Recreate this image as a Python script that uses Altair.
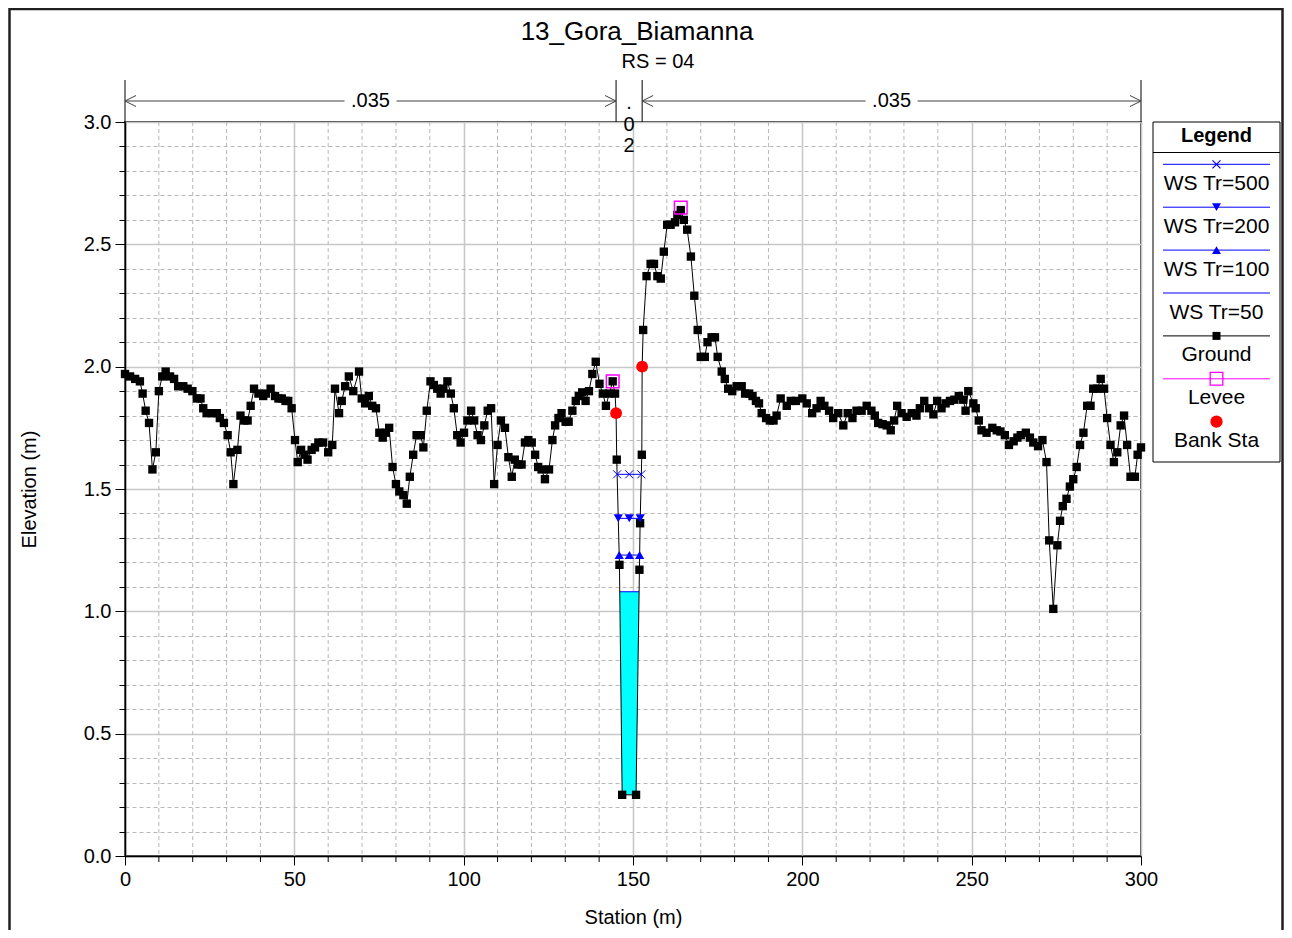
import altair as alt
import pandas as pd

FONT = "Liberation Sans"

# ---------------- data ----------------
station = [0.0, 1.5, 3.0, 4.4, 5.2, 6.1, 7.1, 8.1, 9.1, 10.0, 11.0, 12.0, 13.3, 14.5, 15.7, 17.2,
           18.5, 19.9, 21.2, 22.3, 23.1, 24.1, 25.6, 27.1, 28.0, 29.2, 30.3, 31.2, 32.0, 33.2,
           34.1, 35.2, 36.2, 37.1, 38.1, 39.4, 40.8, 41.6, 43.0, 44.3, 45.3, 46.3, 47.4, 48.2,
           49.2, 50.2, 51.0, 52.0, 53.0, 53.9, 55.1, 56.1, 57.1, 58.5, 60.0, 61.2, 62.0, 63.2,
           64.0, 65.0, 66.1, 67.4, 69.1, 69.9, 70.9, 72.0, 73.0, 74.1, 75.1, 76.1, 77.0, 78.0,
           79.0, 80.0, 81.0, 82.2, 83.2, 84.1, 85.1, 86.1, 87.3, 88.1, 89.1, 90.2, 91.2, 92.2,
           93.2, 94.0, 95.2, 96.2, 97.1, 98.1, 99.1, 100.1, 101.1, 102.2, 103.1, 104.1, 105.1,
           106.1, 107.1, 108.1, 109.0, 110.0, 111.0, 112.2, 113.2, 114.2, 115.1, 116.1, 117.1,
           118.1, 119.1, 120.1, 121.1, 122.0, 123.0, 124.0, 125.2, 126.2, 127.0, 128.0, 128.9,
           130.1, 131.0, 132.1, 133.1, 134.0, 135.0, 136.0, 137.0, 138.0, 139.0, 140.1, 141.1,
           142.0, 143.0, 144.0, 144.7, 145.0, 145.2, 146.0, 146.8, 150.9, 151.9, 152.1, 152.6,
           152.7, 153.0, 154.0, 155.2, 156.2, 157.2, 158.2, 159.1, 160.1, 161.1, 162.4, 163.1,
           164.1, 165.0, 166.0, 167.1, 168.1, 169.1, 170.0, 171.2, 172.0, 173.2, 174.2, 175.0,
           176.2, 177.1, 178.1, 179.3, 180.6, 182.1, 183.1, 184.3, 185.3, 186.3, 187.2, 188.0,
           189.3, 190.4, 191.5, 192.4, 193.6, 195.4, 196.6, 198.1, 200.0, 201.3, 202.9, 204.2,
           205.4, 206.5, 207.9, 209.1, 210.6, 212.1, 213.4, 214.8, 216.0, 217.5, 219.0, 220.4,
           221.4, 222.4, 223.7, 224.9, 226.1, 227.1, 228.0, 229.3, 230.8, 232.3, 233.7, 234.7,
           236.0, 237.4, 238.7, 239.8, 241.1, 242.3, 243.6, 244.9, 246.2, 247.5, 248.2, 249.0,
           250.5, 251.2, 252.1, 252.9, 254.4, 256.1, 257.4, 258.5, 259.8, 261.0, 262.4, 263.5,
           264.5, 266.0, 267.2, 268.2, 269.6, 270.9, 272.1, 272.9, 274.1, 275.3, 276.1, 276.9,
           278.0, 279.0, 280.0, 281.0, 282.0, 283.0, 284.1, 285.1, 285.9, 287.1, 288.1, 289.1,
           290.0, 291.0, 292.0, 293.0, 294.0, 295.0, 295.9, 296.9, 298.2, 299.0, 300.0]
elevation = [1.97, 1.96, 1.95, 1.94, 1.89, 1.82, 1.77, 1.58, 1.65, 1.90, 1.96, 1.98, 1.96, 1.95,
             1.92, 1.92, 1.91, 1.90, 1.87, 1.87, 1.83, 1.81, 1.81, 1.81, 1.79, 1.77, 1.72, 1.65,
             1.52, 1.66, 1.80, 1.78, 1.78, 1.84, 1.91, 1.89, 1.88, 1.89, 1.91, 1.88, 1.87, 1.87,
             1.86, 1.86, 1.83, 1.70, 1.61, 1.66, 1.64, 1.62, 1.66, 1.67, 1.69, 1.69, 1.65, 1.68,
             1.91, 1.81, 1.86, 1.92, 1.96, 1.90, 1.98, 1.87, 1.85, 1.88, 1.84, 1.83, 1.73, 1.71,
             1.73, 1.75, 1.59, 1.52, 1.49, 1.475, 1.44, 1.55, 1.64, 1.72, 1.72, 1.67, 1.82, 1.94,
             1.925, 1.91, 1.89, 1.91, 1.94, 1.89, 1.83, 1.72, 1.69, 1.73, 1.78, 1.82, 1.78, 1.72,
             1.70, 1.76, 1.82, 1.83, 1.52, 1.68, 1.78, 1.75, 1.63, 1.55, 1.62, 1.60, 1.60, 1.69,
             1.70, 1.69, 1.64, 1.59, 1.58, 1.54, 1.58, 1.70, 1.76, 1.79, 1.81, 1.775, 1.775, 1.82,
             1.86, 1.88, 1.895, 1.86, 1.90, 1.97, 2.02, 1.93, 1.89, 1.84, 1.89, 1.94, 1.89, 1.81,
             1.62, 1.19, 0.25, 0.25, 1.17, 1.36, 1.64, 2.00, 2.15, 2.37, 2.42, 2.42, 2.37, 2.36,
             2.47, 2.58, 2.58, 2.59, 2.62, 2.64, 2.60, 2.56, 2.45, 2.29, 2.15, 2.04, 2.04, 2.10,
             2.12, 2.12, 2.04, 1.98, 1.95, 1.91, 1.90, 1.92, 1.92, 1.89, 1.89, 1.88, 1.86, 1.85,
             1.81, 1.79, 1.78, 1.78, 1.80, 1.87, 1.84, 1.86, 1.86, 1.87, 1.85, 1.81, 1.83, 1.86,
             1.84, 1.82, 1.79, 1.81, 1.76, 1.81, 1.79, 1.82, 1.82, 1.84, 1.82, 1.80, 1.77, 1.765,
             1.76, 1.74, 1.78, 1.84, 1.81, 1.795, 1.81, 1.80, 1.83, 1.86, 1.83, 1.805, 1.86, 1.83,
             1.85, 1.86, 1.865, 1.88, 1.865, 1.82, 1.90, 1.85, 1.83, 1.78, 1.74, 1.73, 1.75, 1.74,
             1.735, 1.72, 1.68, 1.695, 1.71, 1.72, 1.73, 1.71, 1.69, 1.675, 1.70, 1.61, 1.29, 1.01,
             1.27, 1.37, 1.43, 1.46, 1.51, 1.54, 1.59, 1.68, 1.73, 1.84, 1.84, 1.91, 1.91, 1.95,
             1.91, 1.79, 1.68, 1.61, 1.65, 1.76, 1.80, 1.68, 1.55, 1.55, 1.64, 1.67]

levee_station = [144.0, 164.1]
levee_elevation = [1.94, 2.65]
bank_station = [145.0, 152.7]
bank_elevation = [1.81, 2.00]

profile_names = ["WS Tr=500", "WS Tr=200", "WS Tr=100", "WS Tr=50"]
profile_wse = [1.56, 1.38, 1.23, 1.08]

n_breaks = [0.0, 145.0, 152.7, 300.0]
n_values = [".035", ".02", ".035"]

x_major = list(range(0, 301, 50))
x_minor = [v for v in range(0, 301, 10) if v % 50]
y_ticks = [round(i * 0.1, 1) for i in range(31)]

chart_title = "13_Gora_Biamanna"
chart_subtitle = "RS = 04"
x_title = "Station (m)"
y_title = "Elevation (m)"
legend_title = "Legend"

# ---------------- layout ----------------
W, H = 1016, 734
PX_PER_M = W / 300.0
BLUE, BLACK, MAGENTA, RED, CYAN = "#0000ff", "#000000", "#ff00ff", "#ff0000", "#00ffff"
MAJOR_GRID, MINOR_GRID = "#c8c8c8", "#b8b8b8"
X_PATH = "M -1 -1 L 1 1 M -1 1 L 1 -1"
RIGHT_HEAD = "M -2 -1 L 0 0 L -2 1"
LEFT_HEAD = "M 2 -1 L 0 0 L 2 1"
profile_shapes = [X_PATH, "triangle-down", "triangle-up", None]

xs = alt.Scale(domain=[0, 300], nice=False, zero=False)
ys = alt.Scale(domain=[0, 3], nice=False, zero=False)

major_y = "round(datum.value * 10) % 5 === 0"

x_axis = alt.Axis(
    values=x_major, title=x_title, grid=True, gridColor=MAJOR_GRID, gridWidth=1.6,
    tickSize=9, labelPadding=4, titlePadding=18, labelFlush=False, labelOverlap=False,
)
y_axis = alt.Axis(
    values=y_ticks, title=y_title,
    labelExpr=f"{major_y} ? format(datum.value, '.1f') : ''",
    grid=True,
    gridDash={"condition": {"test": major_y, "value": []}, "value": [4, 3]},
    gridColor={"condition": {"test": major_y, "value": MAJOR_GRID}, "value": MINOR_GRID},
    gridWidth={"condition": {"test": major_y, "value": 1.6}, "value": 1},
    tickSize={"condition": {"test": major_y, "value": 10}, "value": 6},
    labelPadding=4, titlePadding=44, labelFlush=False, labelOverlap=False,
)


def X(field):
    return alt.X(f"{field}:Q", scale=xs, axis=x_axis)


def Y(field):
    return alt.Y(f"{field}:Q", scale=ys, axis=y_axis)


ground_df = pd.DataFrame({"station": station, "elev": elevation, "idx": range(len(station))})


def crossings(level):
    found = []
    for i in range(len(station) - 1):
        s0, s1 = station[i], station[i + 1]
        if s0 < bank_station[0] or s1 > bank_station[1]:
            continue
        e0, e1 = elevation[i], elevation[i + 1]
        if (e0 - level) * (e1 - level) < 0:
            found.append(s0 + (level - e0) * (s1 - s0) / (e1 - e0))
    return found[0], found[-1]


ws_line_rows, ws_pt_rows = [], []
for name, wse, shp in zip(profile_names, profile_wse, profile_shapes):
    left, right = crossings(wse)
    ws_line_rows += [dict(name=name, station=left, wse=wse), dict(name=name, station=right, wse=wse)]
    if shp:
        for s in (left, (left + right) / 2, right):
            ws_pt_rows.append(dict(name=name, station=s, wse=wse, shape=shp))
ws_line_df = pd.DataFrame(ws_line_rows)
ws_pt_df = pd.DataFrame(ws_pt_rows)

lw = profile_wse[-1]
l50, r50 = crossings(lw)
fill_rows = [dict(station=l50, ground=lw, wse=lw)]
fill_rows += [dict(station=s, ground=e, wse=lw) for s, e in zip(station, elevation) if l50 < s < r50]
fill_rows += [dict(station=r50, ground=lw, wse=lw)]
fill_df = pd.DataFrame(fill_rows)

one = pd.DataFrame({"d": [0]})
minor_df = pd.DataFrame({"v": x_minor})
layers = []

# minor x grid + minor x ticks
layers.append(alt.Chart(minor_df).mark_rule(color=MINOR_GRID, strokeWidth=1, strokeDash=[4, 3]).encode(
    x=X("v"), y=alt.value(0), y2=alt.value(H)))
layers.append(alt.Chart(minor_df).mark_rule(color=BLACK, strokeWidth=1).encode(
    x=X("v"), y=alt.value(H), y2=alt.value(H + 6)))

# water fill
layers.append(alt.Chart(fill_df).mark_area(color=CYAN, opacity=1).encode(
    x=X("station"), y=Y("ground"), y2="wse:Q"))
# water surface lines
layers.append(alt.Chart(ws_line_df).mark_line(color=BLUE, strokeWidth=1).encode(
    x=X("station"), y=Y("wse"), detail="name:N"))
# ground
layers.append(alt.Chart(ground_df).mark_line(color=BLACK, strokeWidth=1).encode(
    x=X("station"), y=Y("elev"), order="idx:Q"))
layers.append(alt.Chart(ground_df).mark_point(shape="square", filled=True, size=70,
                                              color=BLACK, opacity=1).encode(
    x=X("station"), y=Y("elev")))
# WS markers
xm = ws_pt_df[ws_pt_df["shape"] == X_PATH]
tm = ws_pt_df[ws_pt_df["shape"] != X_PATH]
layers.append(alt.Chart(xm).mark_point(shape=X_PATH, filled=False, size=64, color=BLUE,
                                       strokeWidth=1, opacity=1).encode(
    x=X("station"), y=Y("wse")))
layers.append(alt.Chart(tm).mark_point(filled=True, size=85, color=BLUE, opacity=1).encode(
    x=X("station"), y=Y("wse"), shape=alt.Shape("shape:N", scale=None)))
# levees
levee_df = pd.DataFrame({"station": levee_station, "elev": levee_elevation})
layers.append(alt.Chart(levee_df).mark_point(shape="square", filled=False, size=160,
                                             color=MAGENTA, strokeWidth=1.5, opacity=1).encode(
    x=X("station"), y=Y("elev")))
# bank stations
bank_df = pd.DataFrame({"station": bank_station, "elev": bank_elevation})
layers.append(alt.Chart(bank_df).mark_point(shape="circle", filled=True, size=140,
                                            color=RED, opacity=1).encode(
    x=X("station"), y=Y("elev")))

# ---------------- Manning's n annotation ----------------
brk_df = pd.DataFrame({"station": n_breaks})
layers.append(alt.Chart(brk_df).mark_rule(color=BLACK, strokeWidth=1).encode(
    x=X("station"), y=alt.value(-42), y2=alt.value(0)))

gap = 26 / PX_PER_M
seg_rows, head_rows, lab_rows = [], [], []
for x0, x1, lab in zip(n_breaks[:-1], n_breaks[1:], n_values):
    mid = (x0 + x1) / 2
    if (x1 - x0) * PX_PER_M > 80:
        seg_rows += [dict(a=x0, b=mid - gap), dict(a=mid + gap, b=x1)]
        head_rows += [dict(station=x0, shape=LEFT_HEAD), dict(station=x1, shape=RIGHT_HEAD)]
        lab_rows.append(dict(station=mid, text=lab, py=-21))
    else:
        for k, ch in enumerate(lab):
            lab_rows.append(dict(station=mid, text=ch, py=-19 + 21.5 * k))
layers.append(alt.Chart(pd.DataFrame(seg_rows)).mark_rule(color="#404040", strokeWidth=1).encode(
    x=X("a"), x2="b:Q", y=alt.value(-21)))
layers.append(alt.Chart(pd.DataFrame(head_rows)).mark_point(filled=False, size=121, color="#404040",
                                                            strokeWidth=1, opacity=1).encode(
    x=X("station"), y=alt.value(-21), shape=alt.Shape("shape:N", scale=None)))
layers.append(alt.Chart(pd.DataFrame(lab_rows)).mark_text(
    font=FONT, fontSize=20, color=BLACK, baseline="middle", align="center").encode(
    x=X("station"), y=alt.Y("py:Q", scale=None), text="text:N"))

# ---------------- titles ----------------
layers.append(alt.Chart(one).mark_text(text=chart_title, font=FONT, fontSize=26, color=BLACK,
                                       baseline="middle", align="center").encode(
    x=alt.value(512), y=alt.value(-90)))
layers.append(alt.Chart(one).mark_text(text=chart_subtitle, font=FONT, fontSize=20, color=BLACK,
                                       baseline="middle", align="center").encode(
    x=alt.value(533), y=alt.value(-60)))

# ---------------- legend ----------------
LX0, LX1, LY0, LY1 = 1028, 1155, 0, 340
layers.append(alt.Chart(one).mark_rect(fill="white", stroke=BLACK, strokeWidth=1).encode(
    x=alt.value(LX0), x2=alt.value(LX1), y=alt.value(LY0), y2=alt.value(LY1)))
layers.append(alt.Chart(one).mark_rule(color=BLACK, strokeWidth=1).encode(
    x=alt.value(LX0), x2=alt.value(LX1), y=alt.value(30.5)))
layers.append(alt.Chart(one).mark_text(text=legend_title, font=FONT, fontSize=20, fontWeight="bold",
                                       color=BLACK, baseline="middle", align="center").encode(
    x=alt.value((LX0 + LX1) / 2), y=alt.value(14)))

legend_items = [
    (profile_names[0], BLUE, dict(shape=X_PATH, filled=False, size=64, color=BLUE, strokeWidth=1.2)),
    (profile_names[1], BLUE, dict(shape="triangle-down", filled=True, size=80, color=BLUE)),
    (profile_names[2], BLUE, dict(shape="triangle-up", filled=True, size=80, color=BLUE)),
    (profile_names[3], BLUE, None),
    ("Ground", BLACK, dict(shape="square", filled=True, size=64, color=BLACK)),
    ("Levee", MAGENTA, dict(shape="square", filled=False, size=160, color=MAGENTA, strokeWidth=1.3)),
    ("Bank Sta", None, dict(shape="circle", filled=True, size=150, color=RED)),
]
mx = (LX0 + LX1) / 2
for i, (lab, lcol, mk) in enumerate(legend_items):
    ly = 42.3 + i * 42.9
    if lcol:
        layers.append(alt.Chart(one).mark_rule(color=lcol, strokeWidth=1).encode(
            x=alt.value(LX0 + 10), x2=alt.value(LX1 - 10), y=alt.value(ly)))
    if mk:
        layers.append(alt.Chart(one).mark_point(opacity=1, **mk).encode(
            x=alt.value(mx), y=alt.value(ly)))
    layers.append(alt.Chart(one).mark_text(text=lab, font=FONT, fontSize=21, color=BLACK,
                                           baseline="middle", align="center").encode(
        x=alt.value(mx), y=alt.value(ly + 19.5)))

# outer frame
layers.append(alt.Chart(one).mark_rect(fillOpacity=0, stroke="#202020", strokeWidth=2.5).encode(
    x=alt.value(-115.5), x2=alt.value(1157.5), y=alt.value(-113), y2=alt.value(860)))

chart = alt.layer(*layers).properties(
    width=W, height=H,
    autosize=alt.AutoSizeParams(type="none"),
    padding={"left": 117, "top": 114, "right": 143, "bottom": 74},
    background="white",
).configure_view(
    stroke=BLACK, strokeWidth=1.5,
).configure_axis(
    labelFont=FONT, titleFont=FONT, labelFontSize=20, titleFontSize=20,
    labelColor=BLACK, titleColor=BLACK, titleFontWeight="normal",
    domainColor=BLACK, domainWidth=1.5, tickColor=BLACK, tickWidth=1,
)

chart.save("out.html", embed_options={"renderer": "svg", "actions": False})
